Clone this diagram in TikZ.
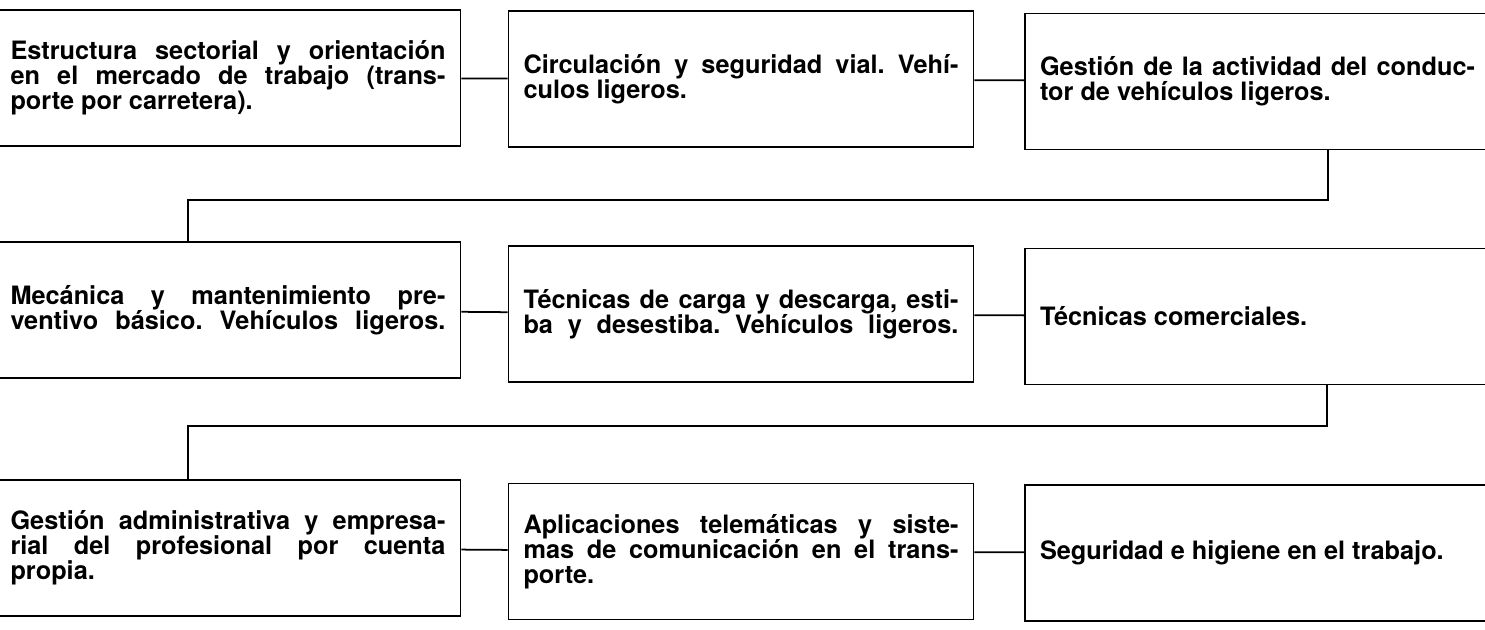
\documentclass[tikz,border=0pt]{standalone}
\usepackage{fontspec}
\setmainfont{TeX Gyre Heros}
\usepackage{tikz}
\usetikzlibrary{calc}

\newcommand{\jline}[1]{\leavevmode\hbox to 8.7cm{\spaceskip=0.22em plus 1fil\relax #1}}
\newcommand{\modtext}[1]{\parbox{8.7cm}{\baselineskip=0.5cm\relax #1\par}}
\tikzset{modulo/.style={draw, line width=1pt, inner xsep=0.3cm, minimum width=9.3cm,
	minimum height=2.72cm, font=\fontsize{14.4}{14.2}\selectfont\bfseries\frenchspacing}}

\begin{document}
\begin{tikzpicture}
	\useasboundingbox (0,0) rectangle (29.7,12.58);
	
	%first row
	\node[modulo] (estructura) at (4.56,11.02) {\modtext{\jline{Estructura sectorial y orientación}\\ \jline{en el mercado de trabajo (trans-}\\ porte por carretera).}};
	\node[modulo] (circulacion) at (14.82,11.0) {\modtext{\jline{Circulación y seguridad vial. Vehí-}\\ culos ligeros.}};
	\node[modulo] (gestion) at (25.15,10.95) {\modtext{\jline{Gestión de la actividad del conduc-}\\ tor de vehículos ligeros.}};
	
	%second row
	\node[modulo] (mecanica) at (4.56,6.38) {\modtext{\jline{Mecánica y mantenimiento pre-}\\ \jline{ventivo básico. Vehículos ligeros.}}};
	\node[modulo] (tecnicas) at (14.82,6.3) {\modtext{\jline{Técnicas de carga y descarga, esti-}\\ \jline{ba y desestiba. Vehículos ligeros.}}};
	\node[modulo] (comerciales) at (25.15,6.25) {\modtext{Técnicas comerciales.}};
	
	%third row
	\node[modulo] (administrativa) at (4.56,1.62) {\modtext{\jline{Gestión administrativa y empresa-}\\ \jline{rial del profesional por cuenta}\\ propia.}};
	\node[modulo] (telematicas) at (14.82,1.55) {\modtext{\jline{Aplicaciones telemáticas y siste-}\\ \jline{mas de comunicación en el trans-}\\ porte.}};
	\node[modulo] (seguridad) at (25.15,1.52) {\modtext{Seguridad e higiene en el trabajo.}};
	
	%bends between rows
	\coordinate (k1) at (26.56,8.58);	%under gestion
	\coordinate (k2) at (3.76,8.58);	%over mecanica
	\coordinate (k3) at (26.54,4.06);	%under comerciales
	\coordinate (k4) at (3.76,4.06);	%over administrativa
	
	%lines
	\draw[line width=1pt] (estructura) -- (circulacion);
	\draw[line width=1pt] (circulacion) -- (gestion);
	\draw[line width=1pt] (k1 |- gestion.south) -- (k1) -- (k2) -- (k2 |- mecanica.north);
	\draw[line width=1pt] (mecanica) -- (tecnicas);
	\draw[line width=1pt] (tecnicas) -- (comerciales);
	\draw[line width=1pt] (k3 |- comerciales.south) -- (k3) -- (k4) -- (k4 |- administrativa.north);
	\draw[line width=1pt] (administrativa) -- (telematicas);
	\draw[line width=1pt] (telematicas) -- (seguridad);
\end{tikzpicture}
\end{document}
